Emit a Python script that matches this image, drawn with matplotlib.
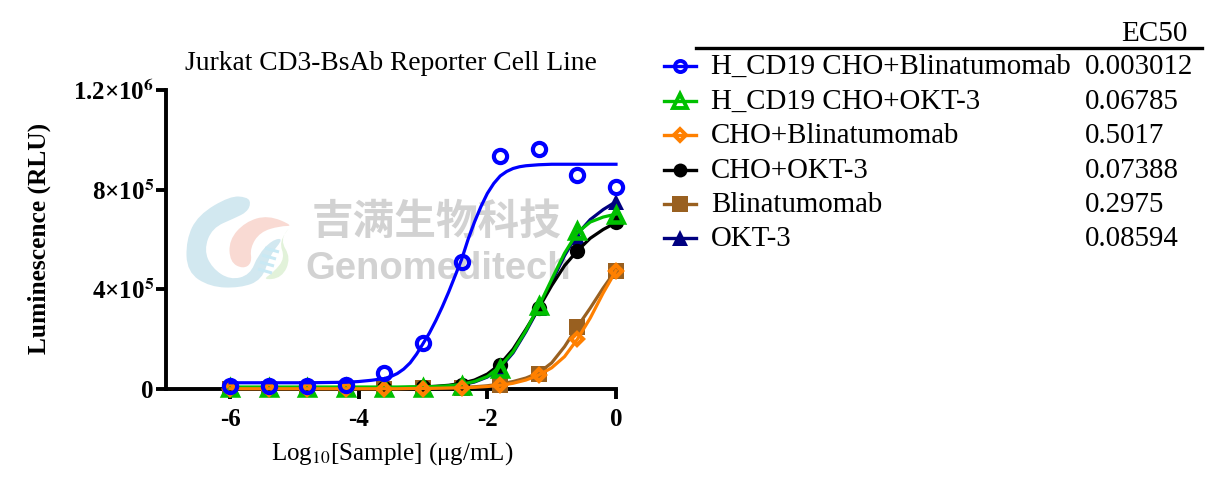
import numpy as np
import matplotlib.pyplot as plt
from matplotlib.patches import PathPatch
from matplotlib.path import Path

plt.rcParams['font.family'] = ['Liberation Serif', 'DejaVu Serif']
plt.rcParams['mathtext.fontset'] = 'stix'

# measured points
log_dose = [-6, -5.4, -4.8, -4.2, -3.6, -3, -2.4, -1.8, -1.2, -0.6, 0]
cd19_blina = [12e3, 12e3, 12e3, 16e3, 64e3, 185e3, 510e3, 935e3, 963e3, 860e3, 810e3]
cd19_okt3 = [3e3, 3e3, 3e3, 3e3, 3e3, 5e3, 12e3, 80e3, 332e3, 635e3, 700e3]
cho_blina = [1e3, 1e3, 1e3, 1e3, 1e3, 2e3, 4e3, 16e3, 56e3, 200e3, 475e3]
cho_okt3 = [3e3, 3e3, 3e3, 3e3, 4e3, 7e3, 18e3, 96e3, 325e3, 555e3, 670e3]
blina = [2e3, 2e3, 2e3, 2e3, 2e3, 3e3, 5e3, 18e3, 60e3, 250e3, 475e3]
okt3 = [3e3, 3e3, 3e3, 3e3, 3e3, 5e3, 12e3, 85e3, 325e3, 610e3, 750e3]

# fitted curves
blue_x = [-6, -5.4, -4.8, -4.2, -4, -3.8, -3.6, -3.5, -3.4, -3.3, -3.2, -3.1, -3, -2.9, -2.8, -2.7, -2.6, -2.5,
          -2.4, -2.3, -2.2, -2.1, -2, -1.9, -1.8, -1.7, -1.6, -1.5, -1.4, -1.2, -1, -0.6, 0]
cd19_blina_fit = [25e3, 25e3, 25e3, 27e3, 30e3, 35e3, 42e3, 50e3, 62e3, 80e3, 105e3, 140e3, 182e3, 225e3, 275e3,
                  330e3, 390e3, 455e3, 520e3, 600e3, 670e3, 732e3, 785e3, 825e3, 855e3, 873e3, 885e3, 892e3,
                  896e3, 900e3, 902e3, 902e3, 902e3]
curve_x = [-6, -5.4, -4.8, -4.2, -4, -3.8, -3.6, -3.4, -3.2, -3, -2.8, -2.6, -2.4, -2.2, -2, -1.8,
           -1.6, -1.4, -1.2, -1, -0.8, -0.6, -0.4, -0.2, 0]
cd19_okt3_fit = [8e3, 8e3, 8e3, 8e3, 8e3, 8e3, 8e3, 8e3, 9e3, 9e3, 10e3, 13e3, 19e3, 30e3,
                 50e3, 90e3, 150e3, 235e3, 332e3, 440e3, 545e3, 628e3, 670e3, 690e3, 702e3]
cho_blina_fit = [1e3, 1e3, 1e3, 1e3, 1e3, 1e3, 1e3, 1e3, 2e3, 2e3, 3e3, 4e3, 5e3, 7e3,
                 10e3, 15e3, 23e3, 36e3, 56e3, 85e3, 130e3, 200e3, 285e3, 385e3, 475e3]
cho_okt3_fit = [3e3, 3e3, 3e3, 3e3, 3e3, 4e3, 4e3, 5e3, 6e3, 8e3, 11e3, 15e3, 23e3, 36e3,
                60e3, 100e3, 160e3, 240e3, 325e3, 415e3, 495e3, 555e3, 605e3, 640e3, 668e3]
blina_fit = [2e3, 2e3, 2e3, 2e3, 2e3, 2e3, 2e3, 2e3, 3e3, 3e3, 4e3, 5e3, 6e3, 9e3,
             13e3, 20e3, 30e3, 44e3, 65e3, 105e3, 170e3, 250e3, 325e3, 405e3, 478e3]
okt3_fit = [3e3, 3e3, 3e3, 3e3, 3e3, 3e3, 4e3, 4e3, 5e3, 6e3, 8e3, 11e3, 17e3, 28e3,
            48e3, 85e3, 145e3, 230e3, 325e3, 430e3, 535e3, 622e3, 680e3, 720e3, 752e3]

labels = ['H_CD19 CHO+Blinatumomab', 'H_CD19 CHO+OKT-3', 'CHO+Blinatumomab',
          'CHO+OKT-3', 'Blinatumomab', 'OKT-3']
ec50 = ['0.003012', '0.06785', '0.5017', '0.07388', '0.2975', '0.08594']
colors = ['#0000ff', '#00c000', '#ff8000', '#000000', '#996020', '#000080']

W, H = 1217, 488
fig = plt.figure(figsize=(W / 100, H / 100), dpi=100)

# watermark sits under the data
wm = fig.add_axes([0, 0, 1, 1], zorder=0)
wm.set_xlim(0, W)
wm.set_ylim(H, 0)
wm.axis('off')


def blob(pts, color):
    # closed smooth shape, pts are control points in reference pixels
    pts = np.array(pts, dtype=float)
    mids = (pts + np.roll(pts, -1, axis=0)) / 2
    verts = [mids[-1]]
    codes = [Path.MOVETO]
    for p, m in zip(pts, mids):
        verts += [p, m]
        codes += [Path.CURVE3, Path.CURVE3]
    wm.add_patch(PathPatch(Path(verts, codes), fc=color, ec='none'))


blob([(247, 197), (230, 196), (198, 215), (186, 240), (187, 272), (210, 287), (240, 288), (262, 280),
      (270, 255), (284, 238), (272, 240), (258, 255), (250, 275), (230, 280), (212, 268), (204, 250),
      (212, 228), (235, 218), (247, 212), (251, 203)], '#d2e8f0')
blob([(294, 226), (268, 215), (245, 222), (229, 240), (230, 262), (243, 269), (252, 263),
      (250, 248), (260, 232), (280, 226)], '#f9dad3')
blob([(292, 224), (280, 240), (291, 258), (282, 278), (262, 280), (274, 272), (285, 258), (279, 242)], '#e2f2da')
for y0, x0 in zip([250, 257, 264, 271], [265, 262, 260, 258]):
    wm.plot([x0, x0 + 14], [y0 - 2, y0 + 2], color='#c9e9f4', lw=2.2, solid_capstyle='butt')
wm.text(437, 222, '吉满生物科技', color='#d2d2d2', fontsize=30, fontweight='bold',
        family=['Noto Sans CJK SC', 'DejaVu Sans'], ha='center', va='center')
wm.text(438, 269, 'Genomeditech', color='#d2d2d2', fontsize=27.5, fontweight='bold',
        family=['Liberation Sans', 'DejaVu Sans'], ha='center', va='center')

ax = fig.add_axes([165.7 / W, 1 - 389 / H, (616 - 165.7) / W, 299 / H], zorder=1)
ax.patch.set_alpha(0)


def draw(x_fit, y, fit, color, marker, size, face=None, mew=0, z=3):
    ax.plot(x_fit, fit, color=color, lw=2.3, zorder=z, clip_on=False)
    ax.plot(log_dose, y, ls='none', marker=marker, ms=size, mfc=face or color, mec=color,
            mew=mew, zorder=z + 0.5, clip_on=False)


# same stacking order as the reference, last on top
draw(curve_x, blina, blina_fit, colors[4], 's', 11.5, z=3)
draw(curve_x, okt3, okt3_fit, colors[5], '^', 12, z=4)
draw(curve_x, cho_okt3, cho_okt3_fit, colors[3], 'o', 11, z=5)
draw(curve_x, cd19_okt3, cd19_okt3_fit, colors[1], '^', 9.5, face='none', mew=3.3, z=6)
draw(curve_x, cho_blina, cho_blina_fit, colors[2], 'D', 5.8, face='none', mew=3, z=7)
draw(blue_x, cd19_blina, cd19_blina_fit, colors[0], 'o', 9.5, face='none', mew=3, z=8)

ax.set_xlim(-7, 0)
ax.set_ylim(0, 1.2e6)
ax.spines['top'].set_visible(False)
ax.spines['right'].set_visible(False)
ax.spines['left'].set_linewidth(2.8)
ax.spines['bottom'].set_linewidth(2.8)
ax.set_xticks([-6, -4, -2, 0])
ax.set_xticklabels(['-6', '-4', '-2', '0'], fontsize=18, fontweight='bold')
ax.set_yticks([0, 4e5, 8e5, 1.2e6])
ax.set_yticklabels(['0', r'4×10$^{\mathbf{5}}$', r'8×10$^{\mathbf{5}}$', r'1.2×10$^{\mathbf{6}}$'],
                   fontsize=18, fontweight='bold')
ax.tick_params(axis='x', width=2.8, length=7, pad=6.5)
ax.tick_params(axis='y', width=2.8, length=7, pad=1.5)
fig.text(392 / W, 1 - 454 / H, r'Log$_{10}$[Sample] (μg/mL)', fontsize=18, ha='center', va='center')
fig.text(39 / W, 1 - 238 / H, 'Luminescence (RLU)', fontsize=18.4, fontweight='bold',
         rotation=90, ha='center', va='center')
fig.text(391 / W, 1 - 64 / H, 'Jurkat CD3-BsAb Reporter Cell Line', fontsize=19.8, ha='center', va='center')

# legend table
fig.add_artist(plt.Line2D([696 / W, 1202 / W], [1 - 48 / H, 1 - 48 / H], color='black', lw=2.4))
fig.text(1154 / W, 1 - 34 / H, 'EC50', fontsize=21, ha='center', va='center')
row_y = [66, 101, 135, 170, 204, 238]
row_marker = ['o', '^', 'D', 'o', 's', '^']
row_size = [8, 9.5, 6, 10, 11, 11]
row_face = ['none', 'none', 'none', None, None, None]
for i, lab in enumerate(labels):
    yy = 1 - row_y[i] / H
    fig.add_artist(plt.Line2D([664 / W, 696 / W], [yy, yy], color=colors[i], lw=2.4))
    fig.add_artist(plt.Line2D([680 / W], [yy], ls='none', marker=row_marker[i], ms=row_size[i],
                              mfc=row_face[i] or colors[i], mec=colors[i], mew=2.8 if row_face[i] else 0))
    fig.text(711 / W, yy - 1 / H, lab, fontsize=20.8, va='center')
    fig.text(1085 / W, yy - 1 / H, ec50[i], fontsize=20.8, va='center')

fig.savefig('out.png', dpi=100)
